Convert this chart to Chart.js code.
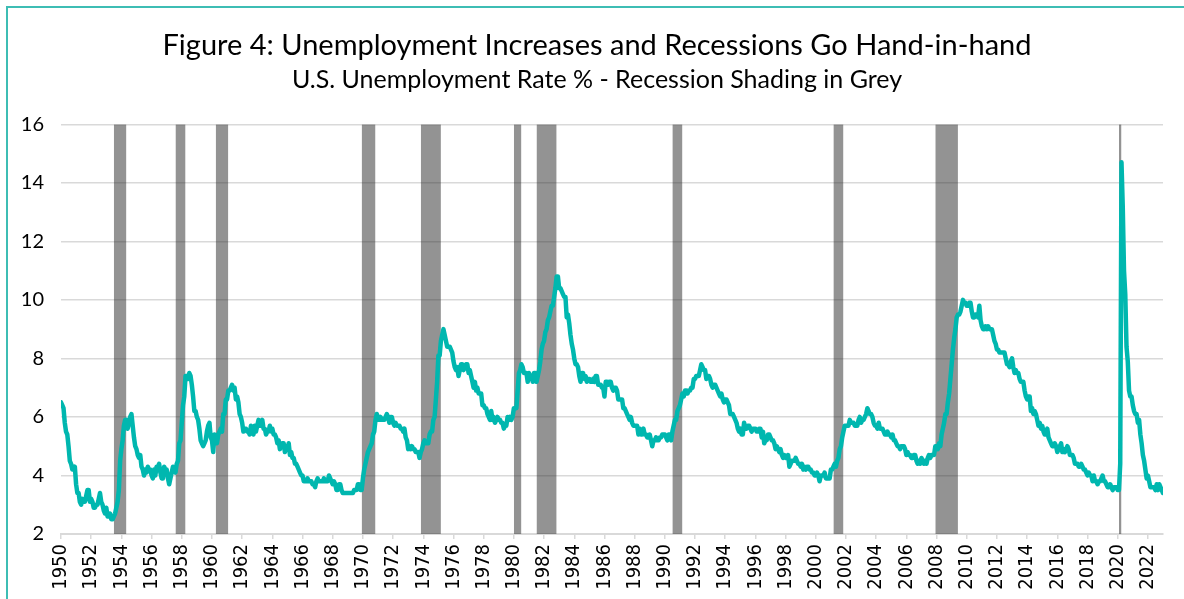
<!DOCTYPE html>
<html>
<head>
<meta charset="utf-8">
<script src="https://cdn.jsdelivr.net/npm/chart.js@4/dist/chart.umd.min.js"></script>
<style>
  html, body { margin: 0; padding: 0; background: #fff; overflow: hidden; }
  #wrap { position: relative; width: 1184px; height: 599px; overflow: hidden; }
  #frame { position: absolute; left: 6px; top: 6px; width: 1300px; height: 700px; border: 2px solid #3DBDB4; box-sizing: border-box; pointer-events: none; }
  canvas { position: absolute; left: 0; top: 0; }
</style>
</head>
<body>
<div id="wrap">
  <canvas id="c" width="1184" height="599"></canvas>
  <div id="frame"></div>
</div>
<script>
// ---- DATA ----
const titleText = 'Figure 4: Unemployment Increases and Recessions Go Hand-in-hand';
const subtitleText = 'U.S. Unemployment Rate % - Recession Shading in Grey';
const startYear = 1950; // first month: January 1950, monthly values
const unemploymentRate = [
  6.5,6.4,6.3,5.8,5.5,5.4,5.0,4.5,4.4,4.2,4.2,4.3,   // 1950
  3.7,3.4,3.4,3.1,3.0,3.2,3.1,3.1,3.3,3.5,3.5,3.1,   // 1951
  3.2,3.1,2.9,2.9,3.0,3.0,3.2,3.4,3.1,3.0,2.8,2.7,   // 1952
  2.9,2.6,2.6,2.7,2.5,2.5,2.6,2.7,2.9,3.1,3.5,4.5,   // 1953
  4.9,5.2,5.7,5.9,5.9,5.6,5.8,6.0,6.1,5.7,5.3,5.0,   // 1954
  4.9,4.7,4.6,4.7,4.3,4.2,4.0,4.2,4.1,4.3,4.2,4.2,   // 1955
  4.0,3.9,4.2,4.0,4.3,4.3,4.4,4.1,3.9,3.9,4.3,4.2,   // 1956
  4.2,3.9,3.7,3.9,4.1,4.3,4.2,4.1,4.4,4.5,5.1,5.2,   // 1957
  5.8,6.4,6.7,7.4,7.4,7.3,7.5,7.4,7.1,6.7,6.2,6.2,   // 1958
  6.0,5.9,5.6,5.2,5.1,5.0,5.1,5.2,5.5,5.7,5.8,5.3,   // 1959
  5.2,4.8,5.4,5.2,5.1,5.4,5.5,5.6,5.5,6.1,6.1,6.6,   // 1960
  6.6,6.9,6.9,7.0,7.1,6.9,7.0,6.6,6.7,6.5,6.1,6.0,   // 1961
  5.8,5.5,5.6,5.6,5.5,5.5,5.4,5.7,5.6,5.4,5.7,5.5,   // 1962
  5.7,5.9,5.7,5.7,5.9,5.6,5.6,5.4,5.5,5.5,5.7,5.5,   // 1963
  5.6,5.4,5.4,5.3,5.1,5.2,4.9,5.0,5.1,5.1,4.8,5.0,   // 1964
  4.9,5.1,4.7,4.8,4.6,4.6,4.4,4.4,4.3,4.2,4.1,4.0,   // 1965
  4.0,3.8,3.8,3.8,3.9,3.8,3.8,3.8,3.7,3.7,3.6,3.8,   // 1966
  3.9,3.8,3.8,3.8,3.8,3.9,3.8,3.8,3.8,4.0,3.9,3.8,   // 1967
  3.7,3.8,3.7,3.5,3.5,3.7,3.7,3.5,3.4,3.4,3.4,3.4,   // 1968
  3.4,3.4,3.4,3.4,3.4,3.5,3.5,3.5,3.7,3.7,3.5,3.5,   // 1969
  3.9,4.2,4.4,4.6,4.8,4.9,5.0,5.1,5.4,5.5,5.9,6.1,   // 1970
  5.9,5.9,6.0,5.9,5.9,5.9,6.0,6.1,6.0,5.8,6.0,6.0,   // 1971
  5.8,5.7,5.8,5.7,5.7,5.7,5.6,5.6,5.5,5.6,5.3,5.2,   // 1972
  4.9,5.0,4.9,5.0,4.9,4.9,4.8,4.8,4.8,4.6,4.8,4.9,   // 1973
  5.1,5.2,5.1,5.1,5.1,5.4,5.5,5.5,5.9,6.0,6.6,7.2,   // 1974
  8.1,8.1,8.6,8.8,9.0,8.8,8.6,8.4,8.4,8.4,8.3,8.2,   // 1975
  7.9,7.7,7.6,7.7,7.4,7.6,7.8,7.8,7.6,7.7,7.8,7.8,   // 1976
  7.5,7.6,7.4,7.2,7.0,7.2,6.9,7.0,6.8,6.8,6.8,6.4,   // 1977
  6.4,6.3,6.3,6.1,6.0,5.9,6.2,5.9,6.0,5.8,5.9,6.0,   // 1978
  5.9,5.9,5.8,5.8,5.6,5.7,5.7,6.0,5.9,6.0,5.9,6.0,   // 1979
  6.3,6.3,6.3,6.9,7.5,7.6,7.8,7.7,7.5,7.5,7.5,7.2,   // 1980
  7.5,7.4,7.4,7.2,7.5,7.5,7.2,7.4,7.6,7.9,8.3,8.5,   // 1981
  8.6,8.9,9.0,9.3,9.4,9.6,9.8,9.8,10.1,10.4,10.8,10.8, // 1982
  10.4,10.4,10.3,10.2,10.1,10.1,9.4,9.5,9.2,8.8,8.5,8.3, // 1983
  8.0,7.8,7.8,7.7,7.4,7.2,7.5,7.5,7.3,7.4,7.2,7.3,   // 1984
  7.3,7.2,7.2,7.3,7.2,7.4,7.4,7.1,7.1,7.1,7.0,7.0,   // 1985
  6.7,7.2,7.2,7.1,7.2,7.2,7.0,6.9,7.0,7.0,6.9,6.6,   // 1986
  6.6,6.6,6.6,6.3,6.3,6.2,6.1,6.0,5.9,6.0,5.8,5.7,   // 1987
  5.7,5.7,5.7,5.4,5.6,5.4,5.4,5.6,5.4,5.4,5.3,5.3,   // 1988
  5.4,5.2,5.0,5.2,5.2,5.3,5.2,5.2,5.3,5.3,5.4,5.4,   // 1989
  5.4,5.3,5.2,5.4,5.4,5.2,5.5,5.7,5.9,5.9,6.2,6.3,   // 1990
  6.4,6.6,6.8,6.7,6.9,6.9,6.8,6.9,6.9,7.0,7.0,7.3,   // 1991
  7.3,7.4,7.4,7.4,7.6,7.8,7.7,7.6,7.6,7.3,7.4,7.4,   // 1992
  7.3,7.1,7.0,7.1,7.1,7.0,6.9,6.8,6.7,6.8,6.6,6.5,   // 1993
  6.6,6.6,6.5,6.4,6.1,6.1,6.1,6.0,5.9,5.8,5.6,5.5,   // 1994
  5.6,5.4,5.4,5.8,5.6,5.6,5.7,5.7,5.6,5.5,5.6,5.6,   // 1995
  5.6,5.5,5.5,5.6,5.6,5.3,5.5,5.1,5.2,5.2,5.4,5.4,   // 1996
  5.3,5.2,5.2,5.1,4.9,5.0,4.9,4.8,4.9,4.7,4.6,4.7,   // 1997
  4.6,4.6,4.7,4.3,4.4,4.5,4.5,4.5,4.6,4.5,4.4,4.4,   // 1998
  4.3,4.4,4.2,4.3,4.2,4.3,4.3,4.2,4.2,4.1,4.1,4.0,   // 1999
  4.0,4.1,4.0,3.8,4.0,4.0,4.0,4.1,3.9,3.9,3.9,3.9,   // 2000
  4.2,4.2,4.3,4.4,4.3,4.5,4.6,4.9,5.0,5.3,5.5,5.7,   // 2001
  5.7,5.7,5.7,5.9,5.8,5.8,5.8,5.7,5.7,5.7,5.9,6.0,   // 2002
  5.8,5.9,5.9,6.0,6.1,6.3,6.2,6.1,6.1,6.0,5.8,5.7,   // 2003
  5.7,5.6,5.8,5.6,5.6,5.6,5.5,5.4,5.4,5.5,5.4,5.4,   // 2004
  5.3,5.4,5.2,5.2,5.1,5.0,5.0,4.9,5.0,5.0,5.0,4.9,   // 2005
  4.7,4.8,4.7,4.7,4.6,4.6,4.7,4.7,4.5,4.4,4.5,4.4,   // 2006
  4.6,4.5,4.4,4.5,4.4,4.6,4.7,4.6,4.7,4.7,4.7,5.0,   // 2007
  5.0,4.9,5.1,5.0,5.4,5.6,5.8,6.1,6.1,6.5,6.8,7.3,   // 2008
  7.8,8.3,8.7,9.0,9.4,9.5,9.5,9.6,9.8,10.0,9.9,9.9,  // 2009
  9.8,9.8,9.9,9.9,9.6,9.4,9.4,9.5,9.5,9.4,9.8,9.3,   // 2010
  9.1,9.0,9.0,9.1,9.0,9.1,9.0,9.0,9.0,8.8,8.6,8.5,   // 2011
  8.3,8.3,8.2,8.2,8.2,8.2,8.2,8.0,7.8,7.8,7.7,7.9,   // 2012
  8.0,7.7,7.5,7.6,7.5,7.5,7.3,7.2,7.2,7.2,6.9,6.7,   // 2013
  6.6,6.7,6.7,6.2,6.3,6.1,6.2,6.1,5.9,5.7,5.8,5.6,   // 2014
  5.7,5.5,5.4,5.4,5.6,5.3,5.2,5.1,5.0,5.0,5.1,5.0,   // 2015
  4.8,4.9,5.0,5.1,4.8,4.9,4.8,4.9,5.0,4.9,4.7,4.7,   // 2016
  4.7,4.6,4.4,4.4,4.4,4.3,4.3,4.4,4.3,4.2,4.2,4.1,   // 2017
  4.0,4.1,4.0,4.0,3.8,4.0,3.8,3.8,3.7,3.8,3.8,3.9,   // 2018
  4.0,3.8,3.8,3.7,3.6,3.6,3.7,3.6,3.5,3.6,3.6,3.6,   // 2019
  3.5,3.5,4.4,14.7,13.2,11.0,10.2,8.4,7.9,6.9,6.7,6.7, // 2020
  6.4,6.2,6.1,6.1,5.8,5.9,5.4,5.1,4.7,4.5,4.2,3.9,   // 2021
  4.0,3.8,3.6,3.6,3.6,3.6,3.5,3.7,3.5,3.7,3.6,3.5,   // 2022
  3.4                                                // 2023
];
const recessionStart = ['1953-07','1957-08','1960-04','1969-12','1973-11','1980-01','1981-07','1990-07','2001-03','2007-12','2020-02'];
const recessionEnd   = ['1954-05','1958-04','1961-02','1970-11','1975-03','1980-07','1982-11','1991-03','2001-11','2009-06','2020-04'];
const recessionTop = 16;
const yMin = 2, yMax = 16, yStep = 2;
const xMin = 1950, xMax = 2023, xStep = 2;

// ---- BUILD ----
const toDec = s => { const [y, m] = s.split('-').map(Number); return y + (m - 1) / 12; };
const ratePoints = unemploymentRate.map((v, i) => ({ x: startYear + i / 12, y: v }));
const recessionPoints = [];
recessionStart.forEach((s, i) => {
  const a = toDec(s), b = toDec(recessionEnd[i]);
  recessionPoints.push({ x: a, y: recessionTop }, { x: b, y: recessionTop }, { x: b, y: null });
});

const titleFont = "Lato, 'Open Sans', sans-serif";
const xTickFont = "'Liberation Sans Narrow', 'DejaVu Sans Condensed', 'Liberation Sans', sans-serif";

// shift the title/subtitle boxes so they are centred like the reference
const titleShift = {
  id: 'titleShift',
  afterLayout(chart) {
    chart.boxes.forEach(b => {
      if (b.options && b.options.text !== undefined && b.position === 'top') {
        b.left += 31; b.right += 0;
      }
    });
  }
};

new Chart(document.getElementById('c'), {
  type: 'line',
  plugins: [titleShift],
  data: {
    datasets: [
      {
        label: 'Unemployment rate',
        data: ratePoints,
        borderColor: '#00B7AF',
        borderWidth: 4.5,
        pointRadius: 0,
        tension: 0,
        borderJoinStyle: 'round',
        borderCapStyle: 'round',
        fill: false,
        order: 0
      },
      {
        label: 'Recession',
        data: recessionPoints,
        borderWidth: 0,
        borderColor: 'rgba(0,0,0,0)',
        backgroundColor: 'rgba(40,40,40,0.5)',
        pointRadius: 0,
        spanGaps: false,
        fill: 'start',
        order: 1
      }
    ]
  },
  options: {
    responsive: false,
    animation: false,
    events: [],
    layout: { padding: { top: 28, left: 0, right: 21, bottom: 0 } },
    plugins: {
      legend: { display: false },
      tooltip: { enabled: false },
      title: {
        display: true, text: titleText, color: '#000',
        font: { family: titleFont, size: 29, weight: 'normal' },
        padding: { top: 0, bottom: 2.5 }
      },
      subtitle: {
        display: true, text: subtitleText, color: '#000',
        font: { family: titleFont, size: 25, weight: 'normal' },
        padding: { top: 0, bottom: 29 }
      }
    },
    scales: {
      x: {
        type: 'linear', min: xMin, max: xMax,
        afterFit: s => { s.height = 65; },
        ticks: {
          stepSize: xStep, autoSkip: false, includeBounds: false,
          minRotation: 90, maxRotation: 90, padding: 5,
          color: '#000',
          font: { family: xTickFont, size: 20 },
          callback: v => String(v)
        },
        grid: { display: true, drawOnChartArea: false, drawTicks: true, tickLength: 5, color: '#D9D9D9', lineWidth: 1.5 },
        border: { display: true, color: '#D9D9D9', width: 2 }
      },
      y: {
        min: yMin, max: yMax,
        afterFit: s => { s.width = 61; },
        ticks: {
          stepSize: yStep, padding: 17, color: '#000',
          font: { family: titleFont, size: 20 }
        },
        grid: { color: '#D9D9D9', lineWidth: 1.5, drawTicks: false },
        border: { display: false }
      }
    }
  }
});
</script>
</body>
</html>
